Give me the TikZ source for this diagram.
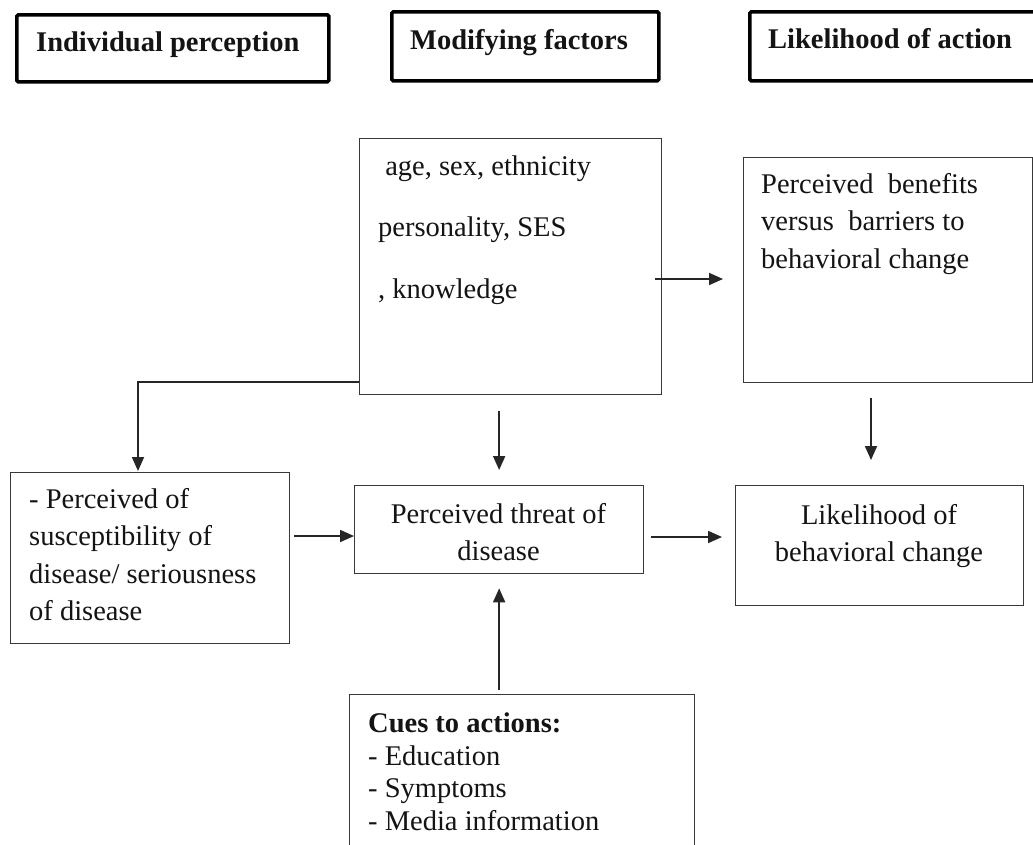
\documentclass[tikz,border=0pt]{standalone}
\usepackage{fontspec}
\setmainfont{Liberation Serif}
\usetikzlibrary{arrows.meta,calc}
\newcommand{\fl}{\rule{0pt}{22pt}}
\begin{document}
\begin{tikzpicture}[x=1pt,y=-1pt,
  hbox/.style={draw=black, line width=3.6pt, rounded corners=1.5pt, inner sep=0pt, anchor=north west},
  box/.style={draw=black!78, line width=1.3pt, inner sep=0pt, anchor=north west},
  txt/.style={inner sep=0pt, anchor=north west, align=left, text=black!92,
    font=\fontsize{28.5}{37.4}\selectfont},
  ctxt/.style={txt, anchor=north, align=center},
  htxt/.style={txt, font=\fontsize{28.5}{37.4}\selectfont\bfseries},
  arr/.style={draw=black!85, line width=1.8pt, -{Triangle[length=14pt,width=12pt]}}]
\useasboundingbox (0,0) rectangle (1033,844);
\fill[white] (0,0) rectangle (1033,844);
\clip (0,0) rectangle (1033,844);

% header boxes
\node[hbox, minimum width=312pt, minimum height=67pt] (H1) at (15,13) {};
\node[hbox, minimum width=267pt, minimum height=69pt] (H2) at (390,10) {};
\node[hbox, minimum width=330pt, minimum height=69pt] (H3) at (748,10) {};
\node[htxt] (H1t) at (36,29) {\fl Individual perception};
\node[htxt] (H2t) at (410,27) {\fl Modifying factors};
\node[htxt] (H3t) at (768,26) {\fl Likelihood of action};

% main boxes
\node[box, minimum width=302pt, minimum height=256pt] (A) at (359,138) {};
\node[box, minimum width=289pt, minimum height=225pt] (B) at (743,157) {};
\node[box, minimum width=279pt, minimum height=171pt] (C) at (10,472) {};
\node[box, minimum width=289pt, minimum height=88pt] (T) at (354,485) {};
\node[box, minimum width=288pt, minimum height=120pt] (D) at (735,485) {};
\node[box, minimum width=345pt, minimum height=180pt] (Cu) at (349,694) {};

% texts
\node[txt, font=\fontsize{28.5}{61.5}\selectfont] (At) at (378,153)
  {\fl\ age, sex, ethnicity\\personality, SES\\, knowledge};
\node[txt] (Bt) at (761,171)
  {\fl Perceived\ \ benefits\\versus\ \ barriers to\\behavioral change};
\node[txt] (Ct) at (29,486)
  {\fl - Perceived of\\susceptibility of\\disease/ seriousness\\of disease};
\node[ctxt] (Tt) at (498.5,501) {\fl Perceived threat of\\disease};
\node[ctxt] (Dt) at (879,502) {\fl Likelihood of\\behavioral change};
\node[txt, font=\fontsize{28.5}{32.8}\selectfont] (Cut) at (368,710)
  {\fl\textbf{Cues to actions:}\\- Education\\- Symptoms\\- Media information};

% helper coordinates for connector lines
\coordinate (aby) at (0,279);
\coordinate (bdx) at (871,0);
\coordinate (acy) at (0,382);
\coordinate (acx) at (138,0);
\coordinate (cty) at (0,536);
\coordinate (tdy) at (0,537);

% connectors
\draw[arr, shorten <=-7pt, shorten >=20pt] (A.east |- aby) -- (B.west |- aby);
\draw[arr, shorten <=15pt, shorten >=25pt] (bdx |- B.south) -- (bdx |- D.north);
\draw[arr, shorten <=16pt, shorten >=15pt] (T.north |- A.south) -- (T.north);
\draw[arr, shorten >=1pt] (A.west |- acy) -| (acx |- C.north);
\draw[arr, shorten <=4pt, shorten >=0pt] (C.east |- cty) -- (T.west |- cty);
\draw[arr, shorten <=7pt, shorten >=13pt] (T.east |- tdy) -- (D.west |- tdy);
\draw[arr, shorten <=4pt, shorten >=14pt] (T.south |- Cu.north) -- (T.south);
\end{tikzpicture}
\end{document}
